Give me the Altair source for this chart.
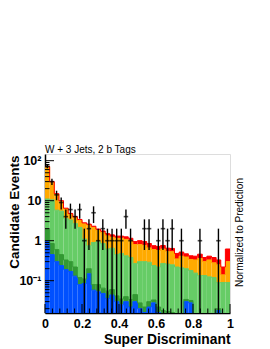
import altair as alt
import pandas as pd
import numpy as np

# ---- data (40 bins on [0,1]) ----
n_bins = 40
blue = [0.95, 0.45, 0.30, 0.24, 0.19, 0.17, 0.13, 0.08, 0.085, 0.15,
        0.058, 0.053, 0.048, 0.036, 0.044, 0.030, 0.025, 0.030, 0.022, 0.030,
        0.020, 0.016, 0.022, 0.028, 0.016, 0.010, 0.008, 0.008, 0.008, 0.008,
        0.030, 0.028, 0.006, 0.006, 0.006, 0.006, 0.006, 0.018, 0.006, 0.006]
dark_green = [0.95, 0.40, 0.30, 0.21, 0.14, 0.13, 0.09, 0.04, 0.025, 0.05,
              0.022, 0.027, 0.017, 0.019, 0.016, 0.012, 0.010, 0.010, 0.012, 0.015,
              0.008, 0.006, 0.008, 0.005, 0.006, 0.008, 0.009, 0.008, 0.006, 0.006,
              0.004, 0.004, 0.006, 0.006, 0.006, 0.006, 0.006, 0.002, 0.006, 0.006]
light_green = [9.1, 9.65, 5.2, 5.05, 3.27, 3.0, 2.48, 2.03, 0.99, 0.55,
               0.82, 0.87, 0.785, 0.565, 0.59, 0.408, 0.445, 0.38, 0.346, 0.225,
               0.272, 0.278, 0.26, 0.207, 0.198, 0.252, 0.243, 0.234, 0.206, 0.196,
               0.166, 0.148, 0.143, 0.123, 0.123, 0.113, 0.108, 0.07, 0.078, 0.078]
orange = [59.0, 18.5, 8.7, 4.2, 2.7, 1.3, 1.15, 1.05, 1.55, 1.7,
          1.25, 0.85, 0.75, 0.70, 0.57, 0.70, 0.67, 0.66, 0.62, 0.53,
          0.50, 0.46, 0.37, 0.36, 0.35, 0.35, 0.28, 0.28, 0.13, 0.20,
          0.19, 0.16, 0.175, 0.225, 0.165, 0.205, 0.16, 0.16, 0.05, 0.21]
red = [2.0, 1.0, 0.5, 0.3, 0.2, 0.2, 0.15, 0.2, 0.15, 0.15,
       0.15, 0.15, 0.15, 0.18, 0.18, 0.15, 0.15, 0.17, 0.15, 0.15,
       0.20, 0.19, 0.19, 0.15, 0.15, 0.14, 0.11, 0.11, 0.13, 0.11,
       0.08, 0.08, 0.08, 0.10, 0.08, 0.08, 0.10, 0.08, 0.08, 0.32]
data_counts = [73, 30, 14, 9, 4, 6, 4, 6, 1, 2,
               5, 1, 2, 1, 1, 1, 1, 4, 1, 0,
               0, 2, 2, 0, 1, 2, 1, 2, 0, 1,
               0, 0, 0, 1, 0, 0, 0, 1, 0, 0]

proc_names = ["blue", "dark green", "light green", "orange", "red"]
fill_colors = ["#0050ff", "#339933", "#66cc66", "#ffaa00", "#ff0000"]
line_colors = ["#0030a0", "#1f661f", "#2f8f2f", "#a06a00", "#a00000"]
layers = [blue, dark_green, light_green, orange, red]

FLOOR = 1e-4
YMIN, YMAX = 0.01558, 147

rect_rows, line_rows = [], []
cum = np.zeros(n_bins)
for name, vals in zip(proc_names, layers):
    lo = cum.copy()
    hi = cum + np.array(vals)
    for i in range(n_bins):
        rect_rows.append(dict(x0=i / n_bins, x1=(i + 1) / n_bins,
                              lo=max(lo[i], FLOOR), hi=hi[i], proc=name))
        line_rows.append(dict(x=i / n_bins, top=hi[i], proc=name))
    line_rows.append(dict(x=1.0, top=hi[-1], proc=name))
    cum = hi
rects = pd.DataFrame(rect_rows)
lines = pd.DataFrame(line_rows)

pts = []
for i, n in enumerate(data_counts):
    if n > 0:
        e = np.sqrt(n)
        pts.append(dict(x=(i + 0.5) / n_bins, n=n, lo=max(n - e, FLOOR), hi=n + e))
pts = pd.DataFrame(pts)

xs = alt.Scale(domain=[0, 1], nice=False, zero=False)
ys = alt.Scale(type="log", domain=[YMIN, YMAX], nice=False)
fill_scale = alt.Scale(domain=proc_names, range=fill_colors)
line_scale = alt.Scale(domain=proc_names, range=line_colors)

FONT = "Liberation Sans"

x_axis = alt.Axis(values=[0, 0.2, 0.4, 0.6, 0.8, 1],
                  labelExpr="datum.value == 0 ? '0' : datum.value >= 0.99 ? '1' : format(datum.value, '.1f')",
                  ticks=False, grid=False,
                  domainColor="black", domainWidth=1.5, labelFont=FONT, labelFontWeight="bold",
                  labelFontSize=12.5, labelPadding=4, labelFlush=False, labelOverlap=False,
                  labelColor="black",
                  title="Super Discriminant", titleFont=FONT, titleFontWeight="bold",
                  titleFontSize=13.8, titleX=185, titleY=30, titleAlign="right",
                  titleBaseline="alphabetic", titleColor="black")
y_axis = alt.Axis(values=[0.1, 1, 10, 100],
                  labelExpr="datum.value >= 50 ? '10²' : datum.value >= 5 ? '10' : datum.value >= 0.5 ? '1' : '10⁻¹'",
                  ticks=False, grid=False, domainColor="black", domainWidth=1.5,
                  labelFont=FONT, labelFontWeight="bold", labelFontSize=12.5, labelPadding=4,
                  labelFlush=False, labelOverlap=False, labelColor="black",
                  title="Candidate Events", titleFont=FONT, titleFontWeight="bold",
                  titleFontSize=13.5, titleAngle=270, titleX=-31, titleY=1,
                  titleAlign="right", titleBaseline="middle", titleColor="black")


def X(f):
    return alt.X(f, scale=xs, axis=x_axis)


def Y(f):
    return alt.Y(f, scale=ys, axis=y_axis)


bars = alt.Chart(rects).mark_rect(clip=True).encode(
    x=X("x0:Q"), x2="x1:Q", y=Y("lo:Q"), y2="hi:Q",
    color=alt.Color("proc:N", scale=fill_scale, legend=None),
)

outlines = alt.Chart(lines).mark_line(interpolate="step-after", clip=True, strokeWidth=1).encode(
    x=X("x:Q"), y=Y("top:Q"),
    color=alt.Color("proc:N", scale=line_scale, legend=None),
    detail="proc:N",
)

err = alt.Chart(pts).mark_rule(clip=True, color="black", strokeWidth=1.4).encode(
    x=X("x:Q"), y=Y("lo:Q"), y2="hi:Q")
marks = alt.Chart(pts).mark_tick(clip=True, color="black", thickness=1.6, size=4.5,
                                 orient="horizontal").encode(
    x=X("x:Q"), y=Y("n:Q"))

# inward ticks (ROOT style)
ymaj = [0.1, 1, 10, 100]
ymin_t = [m * d for d in [0.01, 0.1, 1, 10] for m in range(2, 10) if m * d < YMAX and m * d > YMIN]
ytick_major = alt.Chart(pd.DataFrame({"v": ymaj})).mark_rule(color="black", strokeWidth=1).encode(
    y=Y("v:Q"), x=alt.value(0), x2=alt.value(9))
ytick_minor = alt.Chart(pd.DataFrame({"v": ymin_t})).mark_rule(color="black", strokeWidth=1).encode(
    y=Y("v:Q"), x=alt.value(0), x2=alt.value(4.5))
xmaj = [0, 0.2, 0.4, 0.6, 0.8, 1.0]
xmin_t = [round(k * 0.04, 2) for k in range(1, 25) if k % 5 != 0]
xtick_major = alt.Chart(pd.DataFrame({"v": xmaj})).mark_rule(color="black", strokeWidth=1).encode(
    x=X("v:Q"), y=alt.value(159), y2=alt.value(150))
xtick_minor = alt.Chart(pd.DataFrame({"v": xmin_t})).mark_rule(color="black", strokeWidth=1).encode(
    x=X("v:Q"), y=alt.value(159), y2=alt.value(154.5))

title_txt = alt.Chart(pd.DataFrame({"t": ["W + 3 Jets, 2 b Tags"]})).mark_text(
    font=FONT, fontSize=10, align="left", baseline="alphabetic", color="black").encode(
    text="t:N", x=alt.value(0), y=alt.value(-1))
side_txt = alt.Chart(pd.DataFrame({"t": ["Normalized to Prediction"]})).mark_text(
    font=FONT, fontSize=10, align="center", baseline="middle", angle=270, color="black").encode(
    text="t:N", x=alt.value(195), y=alt.value(78.5))

chart = alt.layer(
    bars, outlines, err, marks, ytick_major, ytick_minor, xtick_major, xtick_minor,
    title_txt, side_txt
).properties(
    width=185, height=159,
    padding={"left": 37, "top": 146, "right": 25, "bottom": 40},
    autosize=alt.AutoSizeParams(type="none"),
).configure_view(
    stroke="#555555", strokeWidth=1.5
).configure(background="white")

chart.save("out.html", embed_options={"renderer": "svg", "actions": False})
